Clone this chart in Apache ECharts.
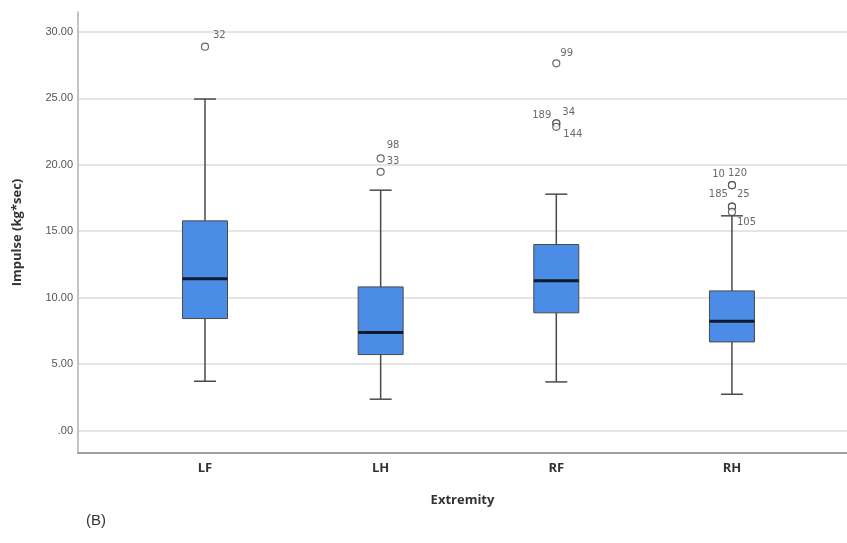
<!DOCTYPE html>
<html>
<head>
    <meta charset="utf-8">
    <title>Impulse by extremity</title>
    <script src="https://cdn.jsdelivr.net/npm/echarts@6/dist/echarts.min.js"></script>
    <style>
        html, body { margin: 0; padding: 0; background: #fff; }
    </style>
</head>
<body>
<div id="main" style="width: 847px;height:543px;"></div>
<script type="text/javascript">
    // box statistics
    var categories = ['LF', 'LH', 'RF', 'RH'];
    var lowWhisker = [3.71, 2.36, 3.66, 2.73];
    var q1 = [8.43, 5.72, 8.86, 6.67];
    var median = [11.42, 7.38, 11.27, 8.23];
    var q3 = [15.78, 10.81, 14.00, 10.51];
    var highWhisker = [24.95, 18.09, 17.79, 16.16];

    // outliers: category index, value, case label
    var outlierCat = [0, 1, 1, 2, 2, 2, 2, 3, 3, 3, 3, 3];
    var outlierValue = [28.89, 20.48, 19.47, 27.64, 23.12, 23.12, 22.86, 18.47, 18.47, 16.85, 16.85, 16.45];
    var outlierId = ['32', '98', '33', '99', '189', '34', '144', '10', '120', '185', '25', '105'];

    var yTicks = [0, 5, 10, 15, 20, 25, 30];

    // where each case label sits next to its circle
    var labelPlace = {
        '32': ['left', 8, -11], '98': ['left', 6, -13], '33': ['left', 6, -10],
        '99': ['left', 4, -10], '189': ['right', -5, -8], '34': ['left', 6, -11],
        '144': ['left', 7, 8], '10': ['right', -7, -11], '120': ['left', -4, -12],
        '185': ['right', -4, -12], '25': ['left', 5, -12], '105': ['left', 5, 10]
    };

    var myChart = echarts.init(document.getElementById('main'));

    var boxData = [];
    for (var i = 0; i < categories.length; i++) {
        boxData.push([i, lowWhisker[i], q1[i], median[i], q3[i], highWhisker[i]]);
    }

    var outData = [];
    for (var j = 0; j < outlierValue.length; j++) {
        var p = labelPlace[outlierId[j]];
        outData.push({
            value: [outlierCat[j], outlierValue[j], outlierId[j]],
            label: { align: p[0], offset: [p[1], p[2]] }
        });
    }

    function renderBox(params, api) {
        var x = api.value(0);
        var lo = api.coord([x, api.value(1)]);
        var b1 = api.coord([x, api.value(2)]);
        var md = api.coord([x, api.value(3)]);
        var b3 = api.coord([x, api.value(4)]);
        var hi = api.coord([x, api.value(5)]);
        var bw = 45, cw = 22;
        var cx = lo[0];
        var wStyle = { stroke: '#4a4a4a', lineWidth: 1.5 };
        return {
            type: 'group',
            children: [
                { type: 'line', shape: { x1: cx, y1: lo[1], x2: cx, y2: b1[1] }, style: wStyle },
                { type: 'line', shape: { x1: cx, y1: b3[1], x2: cx, y2: hi[1] }, style: wStyle },
                { type: 'line', shape: { x1: cx - cw / 2, y1: lo[1], x2: cx + cw / 2, y2: lo[1] }, style: wStyle },
                { type: 'line', shape: { x1: cx - cw / 2, y1: hi[1], x2: cx + cw / 2, y2: hi[1] }, style: wStyle },
                { type: 'rect', shape: { x: cx - bw / 2, y: b3[1], width: bw, height: b1[1] - b3[1] },
                  style: { fill: '#4b8de6', stroke: '#4a4a4a', lineWidth: 1 } },
                { type: 'line', shape: { x1: cx - bw / 2, y1: md[1], x2: cx + bw / 2, y2: md[1] },
                  style: { stroke: '#0d1a2e', lineWidth: 3 } }
            ]
        };
    }

    var option = {
        backgroundColor: '#fff',
        animation: false,
        grid: { left: 78, right: 0, top: 12, bottom: 90 },
        xAxis: {
            type: 'value',
            min: -0.723,
            max: 3.655,
            splitNumber: 4,
            name: 'Extremity',
            nameLocation: 'middle',
            nameGap: 41,
            nameTextStyle: { fontFamily: 'Open Sans', fontWeight: 'bold', fontSize: 13, color: '#333' },
            axisLine: { show: true, onZero: false, lineStyle: { color: '#a0a0a0', width: 2 } },
            axisTick: { show: false },
            splitLine: { show: false },
            axisLabel: {
                margin: 9,
                fontFamily: 'Open Sans', fontWeight: 'bold', fontSize: 13, color: '#333',
                showMinLabel: false, showMaxLabel: false,
                formatter: function (v) {
                    var k = Math.round(v);
                    return (Math.abs(v - k) < 1e-6 && categories[k]) ? categories[k] : '';
                }
            }
        },
        yAxis: {
            type: 'value',
            min: -1.69,
            max: 31.5,
            splitNumber: 7,
            name: 'Impulse (kg*sec)',
            nameLocation: 'middle',
            nameGap: 54,
            nameTextStyle: { fontFamily: 'Open Sans', fontWeight: 'bold', fontSize: 13, color: '#333' },
            axisLine: { show: true, onZero: false, lineStyle: { color: '#b0b0b0', width: 1.5 } },
            axisTick: { show: false },
            axisLabel: {
                margin: 5,
                fontFamily: 'Liberation Sans', fontSize: 11, color: '#555',
                showMinLabel: false, showMaxLabel: false,
                formatter: function (v) {
                    for (var t = 0; t < yTicks.length; t++) {
                        if (Math.abs(v - yTicks[t]) < 1e-6) {
                            return yTicks[t] === 0 ? '.00' : yTicks[t].toFixed(2);
                        }
                    }
                    return '';
                }
            },
            splitLine: {
                show: true,
                lineStyle: {
                    color: ['#a0a0a0', '#dcdcdc', '#dcdcdc', '#dcdcdc', '#dcdcdc', '#dcdcdc', '#dcdcdc', '#dcdcdc', 'rgba(0,0,0,0)'],
                    width: 1.5
                }
            }
        },
        series: [
            {
                type: 'custom',
                renderItem: renderBox,
                encode: { x: 0, y: [1, 5] },
                data: boxData,
                z: 2
            },
            {
                type: 'scatter',
                symbol: 'circle',
                symbolSize: 7,
                itemStyle: { color: '#fff', borderColor: '#444', borderWidth: 1.2 },
                label: {
                    show: true,
                    position: 'inside',
                    verticalAlign: 'middle',
                    fontFamily: 'DejaVu Sans', fontSize: 10, color: '#444',
                    formatter: function (p) { return p.value[2]; }
                },
                data: outData,
                z: 3
            }
        ],
        graphic: [
            { type: 'text', left: 86, top: 513, style: { text: '(B)', fontFamily: 'Liberation Sans', fontSize: 15, fill: '#333' } }
        ]
    };

    myChart.setOption(option);
</script>
</body>
</html>
